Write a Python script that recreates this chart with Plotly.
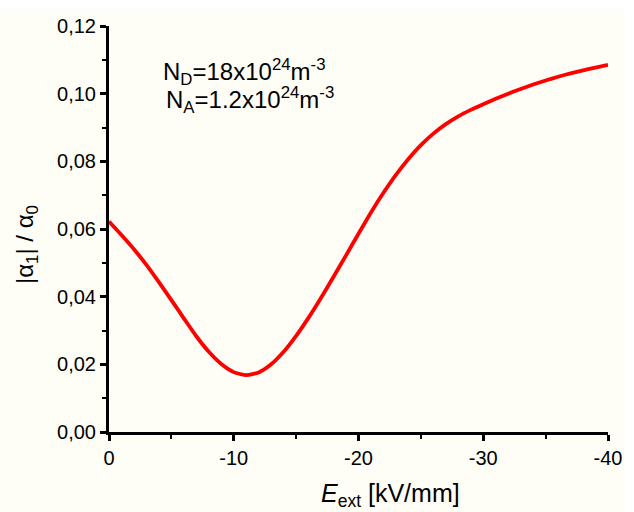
import plotly.graph_objects as go

# Data
e_ext = [0, -1, -2, -3, -4, -5, -6, -7, -8, -9, -10, -11, -12, -13, -14,
         -15, -16, -17, -18, -19, -20, -21, -22, -23, -24, -25, -26, -27, -28,
         -29, -30, -31, -32, -33, -34, -35, -36, -37, -38, -39, -40]
ratio = [0.0622, 0.0582, 0.0540, 0.0494, 0.0443, 0.0390, 0.0336, 0.0283, 0.0237,
         0.0201, 0.0177, 0.0168, 0.0176, 0.0200, 0.0237, 0.0284, 0.0338,
         0.0397, 0.0459, 0.0522, 0.0586, 0.0649, 0.0707, 0.0760, 0.0807, 0.0848,
         0.0882, 0.0910, 0.0933, 0.0952, 0.0969, 0.0985, 0.1000, 0.1014, 0.1027,
         0.1039, 0.1050, 0.1060, 0.1069, 0.1077, 0.1085]

x_ticks = [0, -10, -20, -30, -40]
x_ticktext = ["0", "-10", "-20", "-30", "-40"]
y_ticks = [0.00, 0.02, 0.04, 0.06, 0.08, 0.10, 0.12]
y_ticktext = ["0,00", "0,02", "0,04", "0,06", "0,08", "0,10", "0,12"]

FONT = "Liberation Sans, Arial, sans-serif"
CREAM = "#FEFEF6"

fig = go.Figure()
fig.add_trace(go.Scatter(x=e_ext, y=ratio, mode="lines",
                         line=dict(color="#FF0000", width=3.8, shape="spline", smoothing=0.6),
                         showlegend=False, hoverinfo="skip"))

W, H = 634, 512
L, R, T, B = 109, 26, 26, 80
pw, ph = W - L - R, H - T - B

def px_to_paper_x(px):
    return (px - L) / pw

def px_to_paper_y(py):
    return (H - B - py) / ph

fig.add_shape(type="rect", xref="paper", yref="paper",
              x0=px_to_paper_x(0), x1=px_to_paper_x(625),
              y0=px_to_paper_y(515), y1=px_to_paper_y(9),
              fillcolor=CREAM, line=dict(width=0), layer="below")

axis_common = dict(showline=True, linecolor="black", linewidth=3, mirror=False,
                   showgrid=False, zeroline=False, ticks="outside", ticklen=6,
                   tickwidth=2.5, tickcolor="black",
                   tickfont=dict(family=FONT, size=20, color="black"))

fig.update_xaxes(range=[0, -40], tickvals=x_ticks, ticktext=x_ticktext,
                 minor=dict(ticks="outside", ticklen=4, tickwidth=2, tickcolor="black",
                            dtick=5, tick0=0),
                 **axis_common)
fig.update_yaxes(range=[0, 0.12], tickvals=y_ticks, ticktext=y_ticktext,
                 minor=dict(ticks="outside", ticklen=4, tickwidth=2, tickcolor="black",
                            dtick=0.01, tick0=0),
                 **axis_common)

fig.add_annotation(xref="paper", yref="paper", x=px_to_paper_x(390), y=px_to_paper_y(495),
                   text="<i>E</i><sub>ext</sub> [kV/mm]", showarrow=False,
                   font=dict(family=FONT, size=25, color="black"),
                   xanchor="center", yanchor="middle")
fig.add_annotation(xref="paper", yref="paper", x=px_to_paper_x(27), y=px_to_paper_y(245),
                   text="|α<sub>1</sub>| / α<sub>0</sub>", showarrow=False, textangle=-90,
                   font=dict(family=FONT, size=24, color="black"),
                   xanchor="center", yanchor="middle")
fig.add_annotation(xref="paper", yref="paper", x=px_to_paper_x(161), y=px_to_paper_y(72),
                   text="N<sub>D</sub>=18x10<sup>24</sup>m<sup>-3</sup>", showarrow=False,
                   font=dict(family=FONT, size=24, color="black"),
                   xanchor="left", yanchor="middle")
fig.add_annotation(xref="paper", yref="paper", x=px_to_paper_x(164), y=px_to_paper_y(100),
                   text="N<sub>A</sub>=1.2x10<sup>24</sup>m<sup>-3</sup>", showarrow=False,
                   font=dict(family=FONT, size=24, color="black"),
                   xanchor="left", yanchor="middle")

fig.update_layout(width=W, height=H, margin=dict(l=L, r=R, t=T, b=B),
                  paper_bgcolor="white", plot_bgcolor="rgba(0,0,0,0)",
                  font=dict(family=FONT, color="black"))

fig.write_html("out.html")
